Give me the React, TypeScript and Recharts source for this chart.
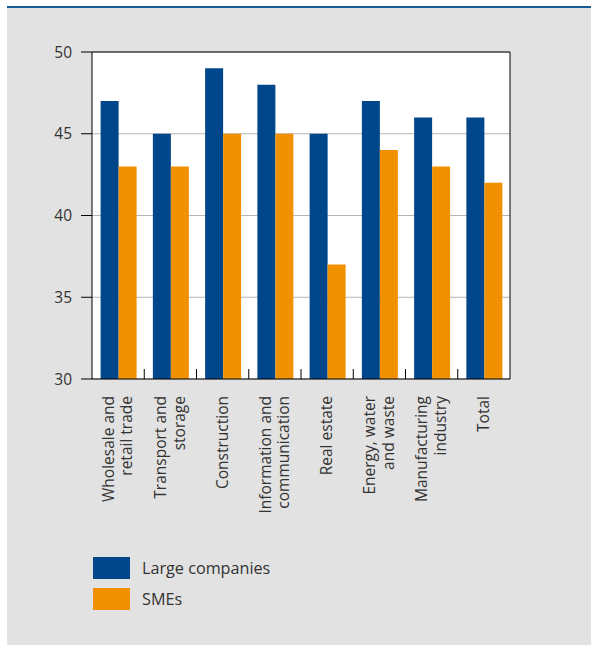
import React from "react";
import {
  BarChart,
  Bar,
  XAxis,
  YAxis,
  CartesianGrid,
  ReferenceLine,
  Legend,
} from "recharts";

const categories = [
  "Wholesale and\nretail trade",
  "Transport and\nstorage",
  "Construction",
  "Information and\ncommunication",
  "Real estate",
  "Energy, water\nand waste",
  "Manufacturing\nindustry",
  "Total",
];
const largeCompanies = [47, 45, 49, 48, 45, 47, 46, 46];
const smes = [43, 43, 45, 45, 37, 44, 43, 42];
const yTicks = [30, 35, 40, 45, 50];
const seriesNames = ["Large companies", "SMEs"];

const BLUE = "#00468B";
const ORANGE = "#F29100";
const TEXT = "#333333";
const FONT = "'Open Sans', 'Noto Sans', sans-serif";

const LABEL_GAP = 17;
const SEP_LEN = 10;

const data = categories.map((name, i) => ({
  name,
  large: largeCompanies[i],
  sme: smes[i],
}));

function CategoryTick(props: any) {
  const { x, y, payload, index } = props;
  const lines = String(payload.value).split("\n");
  const lh = 18.5;
  const first = 5 - ((lines.length - 1) * lh) / 2;
  const half = payload && typeof payload.offset === "number" ? payload.offset : 0;
  const axisY = y - LABEL_GAP;
  const showSep = half > 0 && index < categories.length - 1;
  return (
    <g>
      {showSep && (
        <line
          x1={x + half}
          x2={x + half}
          y1={axisY}
          y2={axisY - SEP_LEN}
          stroke="#000"
          strokeWidth={1}
        />
      )}
      <text
        transform={`rotate(-90, ${x}, ${y})`}
        x={x}
        y={y}
        textAnchor="end"
        fill={TEXT}
        fontSize={15.5}
        fontFamily={FONT}
      >
        {lines.map((l: string, i: number) => (
          <tspan key={i} x={x} dy={i === 0 ? first : lh}>
            {l}
          </tspan>
        ))}
      </text>
    </g>
  );
}

function LegendContent(props: any) {
  const { payload } = props;
  return (
    <div style={{ fontFamily: FONT }}>
      {(payload || []).map((p: any, i: number) => (
        <div
          key={i}
          style={{
            display: "flex",
            alignItems: "center",
            height: 22,
            marginBottom: 9,
          }}
        >
          <div
            style={{ width: 37, height: 22, background: p.color, flex: "none" }}
          />
          <span
            style={{
              marginLeft: 12,
              fontSize: 16.2,
              color: TEXT,
              lineHeight: "22px",
            }}
          >
            {p.value}
          </span>
        </div>
      ))}
    </div>
  );
}

export default function App() {
  const tickStyle = { fill: TEXT, fontSize: 15.5, fontFamily: FONT };
  return (
    <div
      style={{
        position: "absolute",
        left: 0,
        top: 0,
        width: 591,
        height: 646,
        background: "#ffffff",
      }}
    >
      <div
        style={{
          position: "absolute",
          left: 7,
          top: 6,
          width: 584,
          height: 2,
          background: "#1B5B97",
        }}
      />
      <div
        style={{
          position: "absolute",
          left: 7,
          top: 8,
          width: 584,
          height: 637,
          background: "#E2E2E2",
        }}
      />
      <div style={{ position: "absolute", left: 0, top: 0 }}>
        <BarChart
          width={591}
          height={646}
          data={data}
          margin={{ top: 52, right: 0, bottom: 0, left: 0 }}
          barCategoryGap="16.5%"
          barGap={0}
        >
          <CartesianGrid
            vertical={false}
            stroke="#B5B5B5"
            fill="#ffffff"
            fillOpacity={1}
            yAxisId="left"
          />
          <XAxis
            dataKey="name"
            height={267}
            tickLine={false}
            axisLine={{ stroke: "#000", strokeWidth: 1 }}
            tickSize={0}
            tickMargin={LABEL_GAP}
            interval={0}
            tick={<CategoryTick />}
          />
          <YAxis
            yAxisId="left"
            orientation="left"
            width={92}
            domain={[30, 50]}
            ticks={yTicks}
            interval={0}
            tickSize={11}
            tickMargin={9}
            axisLine={{ stroke: "#000" }}
            tickLine={{ stroke: "#000" }}
            tick={tickStyle}
          />
          <YAxis
            yAxisId="right"
            orientation="right"
            width={81}
            domain={[30, 50]}
            ticks={yTicks}
            interval={0}
            tickSize={11}
            tickMargin={6}
            axisLine={{ stroke: "#000" }}
            tickLine={{ stroke: "#000" }}
            tick={tickStyle}
          />
          <ReferenceLine yAxisId="left" y={50} stroke="#000" strokeWidth={1} />
          <Bar
            dataKey="large"
            name={seriesNames[0]}
            fill={BLUE}
            yAxisId="left"
            isAnimationActive={false}
          />
          <Bar
            dataKey="sme"
            name={seriesNames[1]}
            fill={ORANGE}
            yAxisId="left"
            isAnimationActive={false}
          />
          <Legend
            layout="horizontal"
            verticalAlign="middle"
            align="center"
            content={<LegendContent />}
            wrapperStyle={{ top: 557, left: 93, width: 260, margin: 0 }}
          />
        </BarChart>
      </div>
    </div>
  );
}
